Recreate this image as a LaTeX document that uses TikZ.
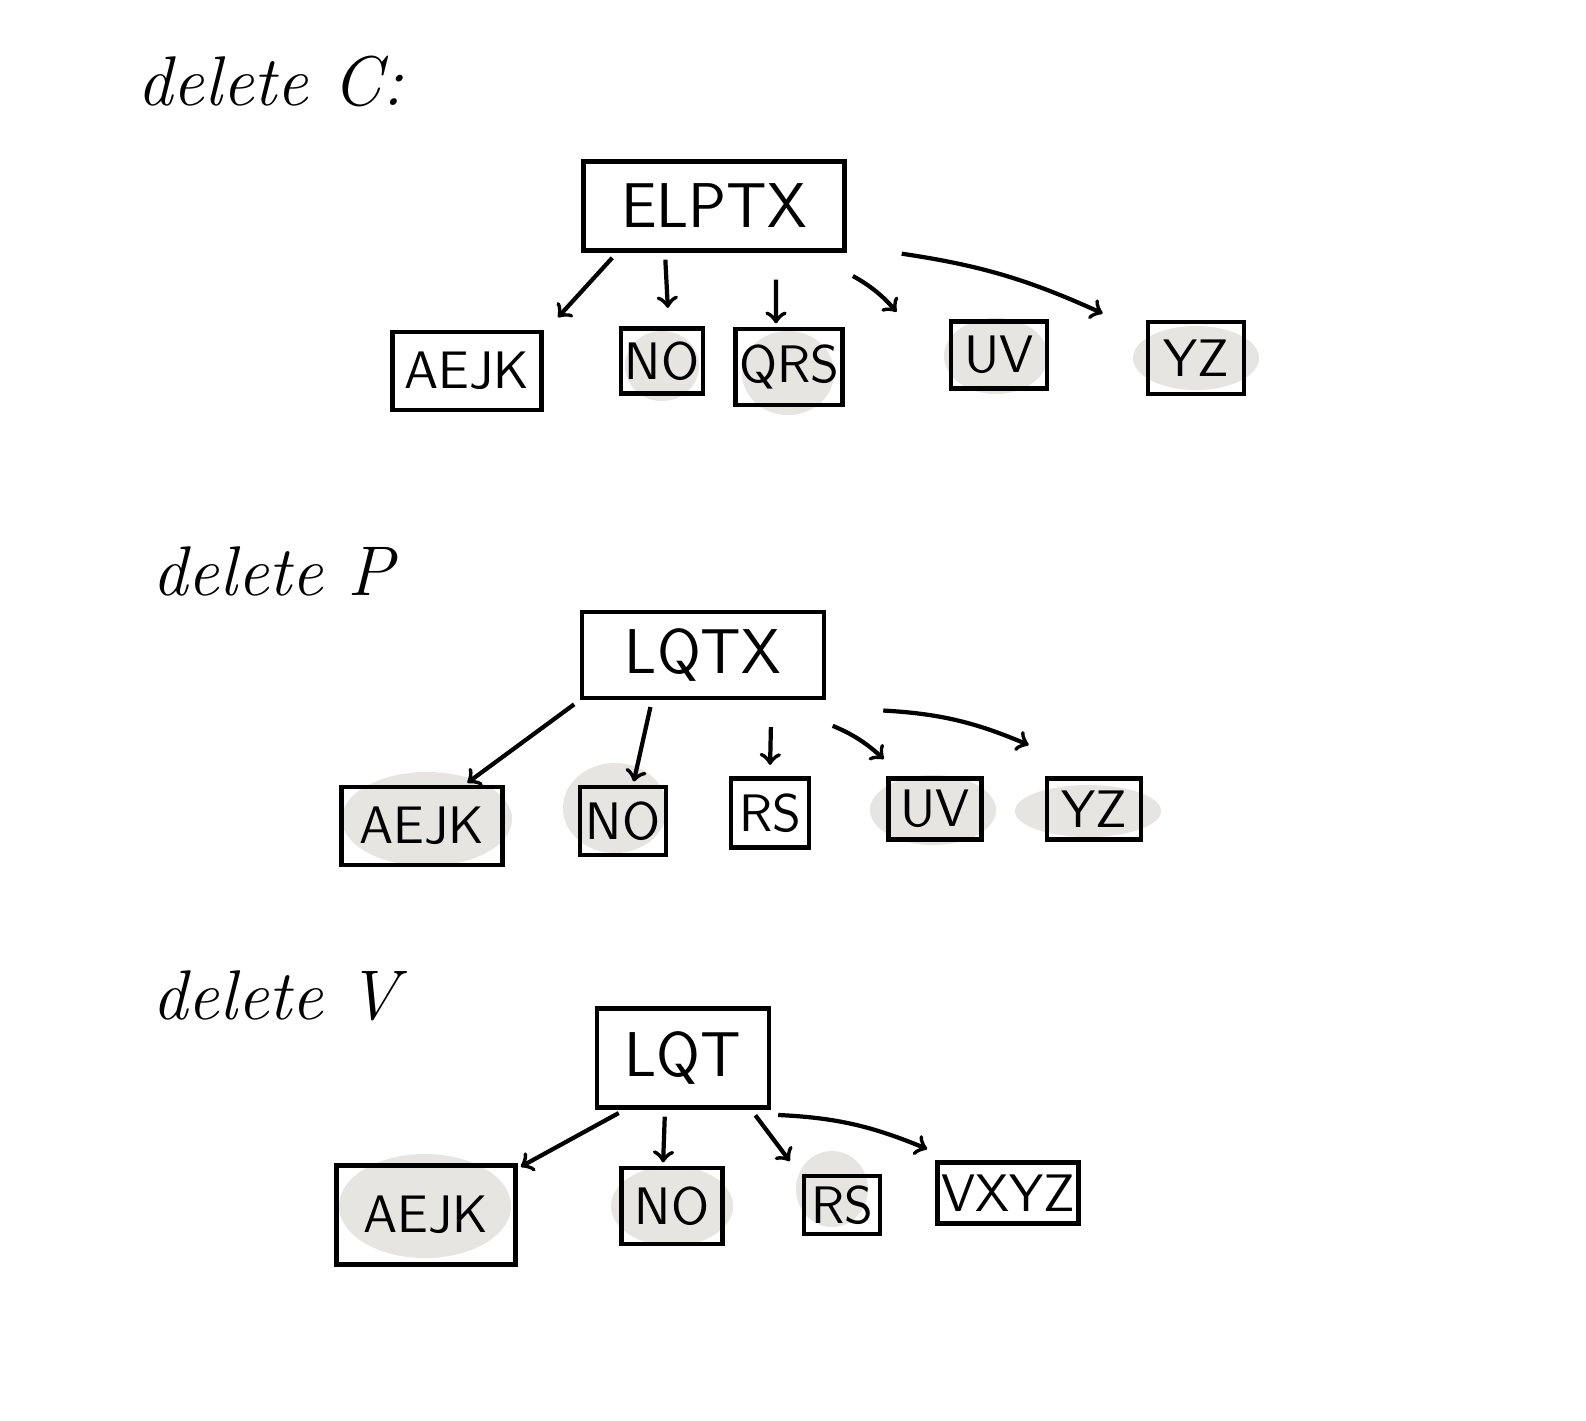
\documentclass[tikz,border=0pt]{standalone}
\definecolor{blobgray}{RGB}{230,229,225}
\tikzset{
  keybox/.style={draw,line width=1.2pt,inner sep=1pt,font=\fontsize{15}{17}\sffamily},
  rootbox/.style={keybox,font=\fontsize{18}{20}\sffamily},
  title/.style={anchor=west,inner sep=0pt,font=\fontsize{20}{24}\itshape},
  arr/.style={->,line width=1.2pt,shorten <=2pt,shorten >=1pt},
}
\begin{document}
\begin{tikzpicture}[x=0.01cm,y=-0.01cm]
\useasboundingbox[fill=white] (0,0) rectangle (1586,1420);
% shadows
\fill[blobgray] (662,366) ellipse (0.37cm and 0.35cm);\fill[blobgray] (788,373) ellipse (0.46cm and 0.42cm);
\fill[blobgray] (996,356) ellipse (0.52cm and 0.38cm);\fill[blobgray] (1196,358) ellipse (0.63cm and 0.32cm);
\fill[blobgray] (427,819) ellipse (0.85cm and 0.47cm);\fill[blobgray] (615,808) ellipse (0.52cm and 0.45cm);
\fill[blobgray] (933,810) ellipse (0.63cm and 0.35cm);\fill[blobgray] (1088,811) ellipse (0.73cm and 0.26cm);
\fill[blobgray] (425,1206) ellipse (0.86cm and 0.52cm);\fill[blobgray] (672,1206) ellipse (0.61cm and 0.40cm);
\fill[blobgray] (832,1189) ellipse (0.36cm and 0.38cm);
% delete C
\node[title] (t1) at (137,81) {delete C:};
\node[rootbox,minimum width=2.61cm,minimum height=0.89cm] (r1) at (714,206) {ELPTX};
\node[keybox,minimum width=1.49cm,minimum height=0.78cm] (a1) at (467,371) {AEJK};
\node[keybox,minimum width=0.71cm,minimum height=0.65cm] (n1) at (662,361) {NO};
\node[keybox,minimum width=0.91cm,minimum height=0.76cm] (q1) at (789,367) {QRS};
\node[keybox,minimum width=0.96cm,minimum height=0.67cm] (u1) at (999,355) {UV};
\node[keybox,minimum width=0.96cm,minimum height=0.72cm] (y1) at (1196,358) {YZ};
\draw[arr] ([xshift=-0.97cm]r1.south) -- ([xshift=0.12cm,yshift=0.1cm]a1.north east);
\draw[arr] ([xshift=-0.49cm]r1.south) -- ([xshift=0.06cm,yshift=0.15cm]n1.north);
\draw[arr] ([xshift=0.62cm,yshift=-0.2cm]r1.south) -- ([xshift=-0.13cm]q1.north);
\draw[arr] ([yshift=-0.2cm]r1.south east) to[bend left=10] ([xshift=-0.5cm,yshift=0.05cm]u1.north west);
\draw[arr] ([xshift=0.48cm]r1.south east) to[bend left=8] ([xshift=-0.4cm,yshift=0.05cm]y1.north west);
% delete P
\node[title] (t2) at (152,571) {delete P};
\node[rootbox,minimum width=2.42cm,minimum height=0.86cm] (r2) at (703,655) {LQTX};
\node[keybox,minimum width=1.61cm,minimum height=0.78cm] (a2) at (422,826) {AEJK};
\node[keybox,minimum width=0.86cm,minimum height=0.68cm] (n2) at (623,821) {NO};
\node[keybox,minimum width=0.78cm,minimum height=0.69cm] (s2) at (770,813) {RS};
\node[keybox,minimum width=0.93cm,minimum height=0.61cm] (u2) at (935,809) {UV};
\node[keybox,minimum width=0.94cm,minimum height=0.61cm] (y2) at (1094,809) {YZ};
\draw[arr] (r2.south west) -- ([xshift=-0.4cm]a2.north east);
\draw[arr] ([xshift=-0.51cm]r2.south) -- ([xshift=0.1cm]n2.north);
\draw[arr] ([xshift=0.68cm,yshift=-0.2cm]r2.south) -- ([yshift=0.08cm]s2.north);
\draw[arr] ([yshift=-0.23cm]r2.south east) to[bend left=10] ([yshift=0.15cm]u2.north west);
\draw[arr] ([xshift=0.5cm,yshift=-0.1cm]r2.south east) to[bend left=10] ([xshift=-0.13cm,yshift=0.3cm]y2.north west);
% delete V
\node[title] (t3) at (152,996) {delete V};
\node[rootbox,minimum width=1.72cm,minimum height=0.99cm] (r3) at (683,1058) {LQT};
\node[keybox,minimum width=1.79cm,minimum height=0.99cm] (a3) at (426,1215) {AEJK};
\node[keybox,minimum width=1.01cm,minimum height=0.76cm] (n3) at (672,1206) {NO};
\node[keybox,minimum width=0.76cm,minimum height=0.58cm] (s3) at (842,1205) {RS};
\node[keybox,minimum width=1.19cm,minimum height=0.61cm] (v3) at (1008,1193) {VXYZ};
\draw[arr] ([xshift=0.3cm]r3.south west) -- ([yshift=-0.05cm]a3.north east);
\draw[arr] ([xshift=-0.18cm]r3.south) -- ([xshift=-0.09cm]n3.north);
\draw[arr] ([xshift=-0.2cm]r3.south east) -- ([xshift=-0.1cm,yshift=0.1cm]s3.north west);
\draw[arr] ([yshift=-0.05cm]r3.south east) to[bend left=10] ([xshift=-0.05cm,yshift=0.1cm]v3.north west);
\end{tikzpicture}
\end{document}
